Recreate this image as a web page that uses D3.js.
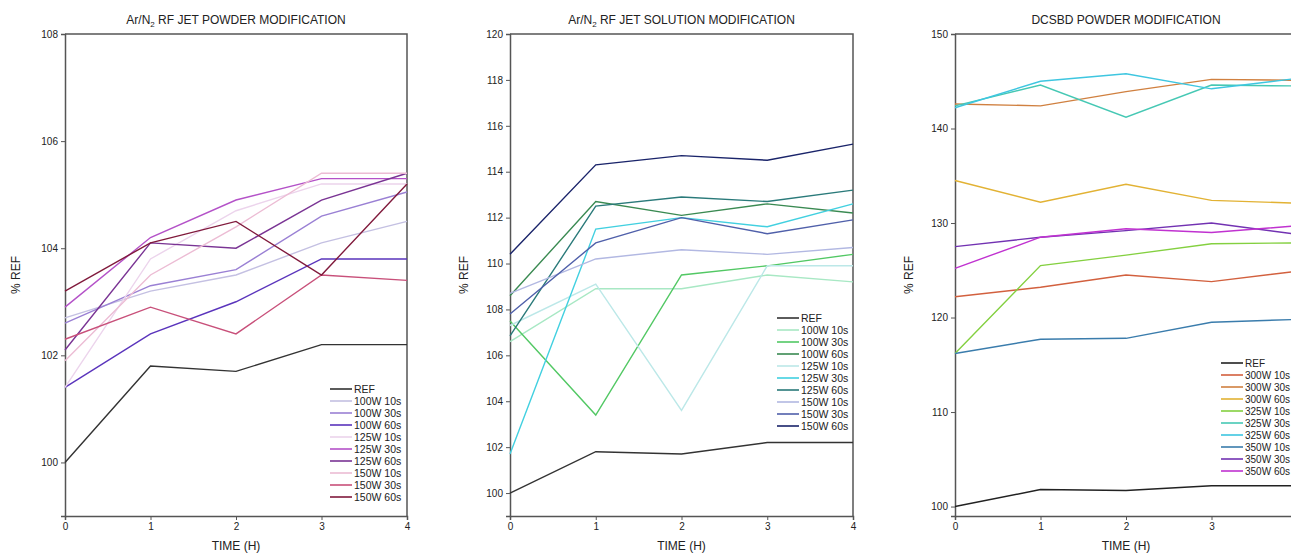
<!DOCTYPE html>
<html lang="en">
<head>
  <meta charset="UTF-8">
  <title>Surface modification vs time</title>
  <style>
    body { margin: 0; background: #fff; font-family: "Liberation Sans", Arial, sans-serif; }
    svg { display: block; }
    .axis path, .axis line { stroke: #555; }
    .axis text { fill: #222; font-size: 10px; }
  </style>
</head>
<body>
  <div id="chart"></div>

  <script src="https://d3js.org/d3.v7.min.js"></script>
  <script>
    const times = [0, 1, 2, 3, 4];

    // Ar/N2 RF jet, powder
    const jetPowderNames = ["REF", "100W 10s", "100W 30s", "100W 60s", "125W 10s", "125W 30s", "125W 60s", "150W 10s", "150W 30s", "150W 60s"];
    const jetPowderValues = [
      [100.0, 101.8, 101.7, 102.2, 102.2],
      [102.7, 103.2, 103.5, 104.1, 104.5],
      [102.6, 103.3, 103.6, 104.6, 105.05],
      [101.4, 102.4, 103.0, 103.8, 103.8],
      [101.4, 103.8, 104.7, 105.2, 105.2],
      [102.9, 104.2, 104.9, 105.3, 105.3],
      [102.1, 104.1, 104.0, 104.9, 105.4],
      [101.9, 103.5, 104.4, 105.4, 105.4],
      [102.3, 102.9, 102.4, 103.5, 103.4],
      [103.2, 104.1, 104.5, 103.5, 105.2]
    ];
    const jetPowderColors = ["#333333", "#c4c0e2", "#9a80d4", "#5a34bc", "#ecd4ec", "#b452c8", "#7a3494", "#ecbcd4", "#c8507a", "#801a3c"];
    const jetPowderTicks = [100, 102, 104, 106, 108];

    // Ar/N2 RF jet, solution
    const jetSolutionNames = ["REF", "100W 10s", "100W 30s", "100W 60s", "125W 10s", "125W 30s", "125W 60s", "150W 10s", "150W 30s", "150W 60s"];
    const jetSolutionValues = [
      [100.0, 101.8, 101.7, 102.2, 102.2],
      [106.6, 108.9, 108.9, 109.5, 109.2],
      [107.5, 103.4, 109.5, 109.9, 110.4],
      [108.6, 112.7, 112.1, 112.6, 112.2],
      [107.3, 109.1, 103.6, 109.9, 109.9],
      [101.7, 111.5, 112.0, 111.6, 112.6],
      [106.85, 112.5, 112.9, 112.7, 113.2],
      [108.7, 110.2, 110.6, 110.4, 110.7],
      [107.8, 110.9, 112.0, 111.3, 111.9],
      [110.4, 114.3, 114.7, 114.5, 115.2]
    ];
    const jetSolutionColors = ["#333333", "#a8e8c4", "#52c864", "#3a8a52", "#bce8e8", "#42d0e0", "#2a7a7a", "#b2b8e2", "#5060aa", "#1a246a"];
    const jetSolutionTicks = [100, 102, 104, 106, 108, 110, 112, 114, 116, 118, 120];

    // DCSBD, powder
    const dcsbdNames = ["REF", "300W 10s", "300W 30s", "300W 60s", "325W 10s", "325W 30s", "325W 60s", "350W 10s", "350W 30s", "350W 60s"];
    const dcsbdValues = [
      [100.0, 101.8, 101.7, 102.2, 102.2],
      [122.2, 123.2, 124.5, 123.8, 124.9],
      [142.6, 142.4, 143.9, 145.2, 145.1],
      [134.5, 132.2, 134.1, 132.4, 132.1],
      [116.2, 125.5, 126.6, 127.8, 127.9],
      [142.4, 144.6, 141.2, 144.6, 144.5],
      [142.2, 145.0, 145.8, 144.2, 145.3],
      [116.2, 117.7, 117.8, 119.5, 119.8],
      [127.5, 128.5, 129.2, 130.0, 128.8],
      [125.2, 128.5, 129.4, 129.0, 129.7]
    ];
    const dcsbdColors = ["#222222", "#d2603e", "#d08040", "#e2b234", "#84d040", "#46c8b4", "#3ec6e0", "#3a7cac", "#7232b2", "#c032d0"];
    const dcsbdTicks = [100, 110, 120, 130, 140, 150];

    const width = 1291, height = 553;

    const panels = [
      { title: ["Ar/N", "2", " RF JET POWDER MODIFICATION"], names: jetPowderNames, values: jetPowderValues, colors: jetPowderColors,
        ticks: jetPowderTicks, yMin: 99, yMax: 108, left: 65, right: 407, legendX: 330, legendY: 389, legendFont: 10.5, yLabelX: 16 },
      { title: ["Ar/N", "2", " RF JET SOLUTION MODIFICATION"], names: jetSolutionNames, values: jetSolutionValues, colors: jetSolutionColors,
        ticks: jetSolutionTicks, yMin: 99, yMax: 120, left: 510, right: 853, legendX: 777, legendY: 318, legendFont: 10.5, yLabelX: 464 },
      { title: ["DCSBD POWDER MODIFICATION"], names: dcsbdNames, values: dcsbdValues, colors: dcsbdColors,
        ticks: dcsbdTicks, yMin: 99, yMax: 150, left: 955, right: 1297, legendX: 1221, legendY: 363, legendFont: 10, yLabelX: 909 }
    ];

    const plotTop = 34, plotBottom = 516;

    const svg = d3.select("#chart").append("svg")
      .attr("width", width)
      .attr("height", height);

    panels.forEach(p => {
      const x = d3.scaleLinear().domain([0, 4]).range([p.left, p.right]);
      const y = d3.scaleLinear().domain([p.yMin, p.yMax]).range([plotBottom, plotTop]);
      const g = svg.append("g");

      // frame (top and right)
      g.append("path")
        .attr("d", `M${p.left},${plotTop}H${p.right}V${plotBottom}`)
        .attr("fill", "none")
        .attr("stroke", "#555")
        .attr("stroke-width", 1.5);

      // only label the ticks that fall inside the window
      const xTicks = times.filter(t => x(t) < width);

      g.append("g")
        .attr("class", "axis")
        .attr("transform", `translate(0,${plotBottom})`)
        .call(d3.axisBottom(x).tickValues(xTicks).tickFormat(d3.format("d")).tickSize(4).tickPadding(3))
        .call(a => a.select(".domain").attr("stroke-width", 1.5));

      g.append("g")
        .attr("class", "axis")
        .attr("transform", `translate(${p.left},0)`)
        .call(d3.axisLeft(y).tickValues(p.ticks).tickFormat(d3.format("d")).tickSize(4).tickPadding(3))
        .call(a => a.select(".domain").attr("stroke-width", 1.5));

      // lines
      const line = d3.line()
        .x((d, i) => x(times[i]))
        .y(d => y(d));

      g.selectAll(".series")
        .data(p.values)
        .enter()
        .append("path")
        .attr("class", "series")
        .attr("d", line)
        .attr("fill", "none")
        .attr("stroke", (d, i) => p.colors[i])
        .attr("stroke-width", 1.4);

      // title
      const t = g.append("text")
        .attr("x", (p.left + p.right) / 2)
        .attr("y", 24)
        .attr("text-anchor", "middle")
        .attr("font-size", 12)
        .attr("fill", "#222");
      t.append("tspan").text(p.title[0]);
      if (p.title.length > 1) {
        t.append("tspan").attr("font-size", 8).attr("dy", 3).text(p.title[1]);
        t.append("tspan").attr("dy", -3).text(p.title[2]);
      }

      // axis labels
      g.append("text")
        .attr("x", (p.left + p.right) / 2)
        .attr("y", 550)
        .attr("text-anchor", "middle")
        .attr("font-size", 12)
        .attr("fill", "#222")
        .text("TIME (H)");

      g.append("text")
        .attr("transform", `translate(${p.yLabelX + 4},275) rotate(-90)`)
        .attr("text-anchor", "middle")
        .attr("font-size", 12)
        .attr("fill", "#222")
        .text("% REF");

      // legend
      const leg = g.selectAll(".leg")
        .data(p.names)
        .enter()
        .append("g")
        .attr("transform", (d, i) => `translate(${p.legendX},${p.legendY + i * 12})`);
      leg.append("line")
        .attr("x1", 0).attr("x2", 22)
        .attr("stroke", (d, i) => p.colors[i])
        .attr("stroke-width", 1.6);
      leg.append("text")
        .attr("x", 24)
        .attr("dy", "0.35em")
        .attr("font-size", p.legendFont)
        .attr("fill", "#222")
        .text(d => d);
    });
  </script>
</body>
</html>
